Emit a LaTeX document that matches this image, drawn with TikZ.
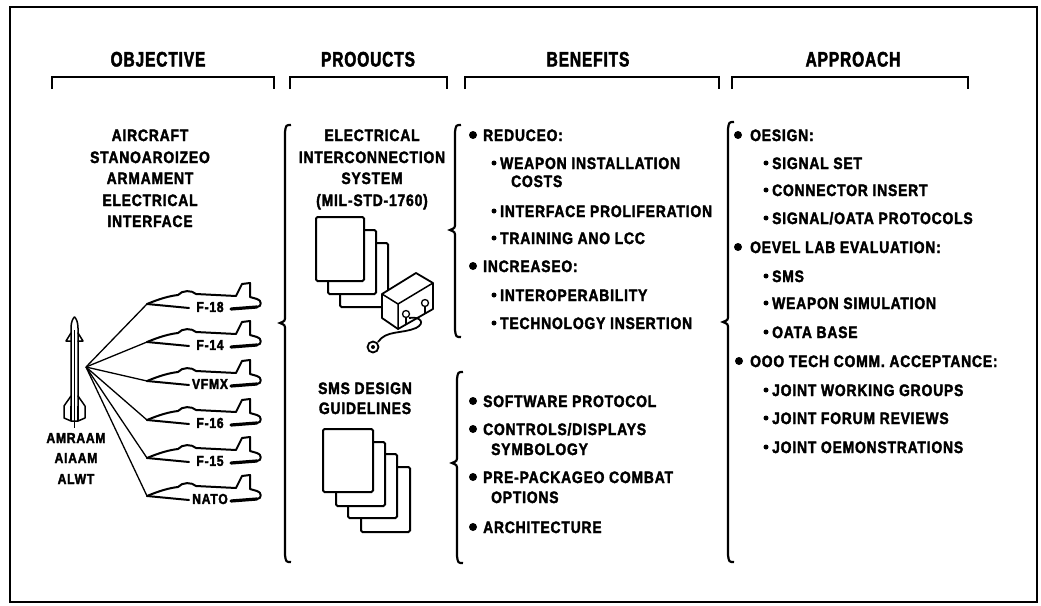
\documentclass[tikz,border=0pt]{standalone}
\usepackage{fontspec}
\newfontfamily\bfont{Liberation Sans}[FakeStretch=0.84,LetterSpace=5,FakeBold=2.2]
\newfontfamily\hfont{Liberation Sans}[FakeStretch=0.74,LetterSpace=4,FakeBold=2.2]
\newcommand\leftbrc[4]{\draw[brc] (#1+6,#2) .. controls (#1+1,#2) .. (#1,#2+7) -- (#1,#3-7) .. controls (#1,#3-2) .. (#1-5,#3) .. controls (#1,#3+2) .. (#1,#3+7) -- (#1,#4-7) .. controls (#1+1,#4) .. (#1+6,#4);}
\tikzset{
  frame/.style={line width=2pt},
  hbrk/.style={line width=2.4pt},
  brc/.style={line width=2.2pt},
  htxt/.style={font=\hfont\bfseries\fontsize{21}{25}\selectfont, anchor=base, inner sep=0pt},
  ctxt/.style={font=\bfont\bfseries\fontsize{16.5}{21}\selectfont, anchor=base, inner sep=0pt},
  btxt/.style={font=\bfont\bfseries\fontsize{16.5}{21}\selectfont, anchor=base west, inner sep=0pt},
  mtxt/.style={font=\bfont\bfseries\fontsize{14.5}{18}\selectfont, anchor=base, inner sep=0pt},
  jtxt/.style={font=\bfont\bfseries\fontsize{14.5}{16}\selectfont, inner sep=0pt},
  jl/.style={line width=2pt, line join=round, line cap=round},
  conn/.style={line width=1.3pt},
  page/.style={draw, fill=white, line width=2pt, rounded corners=1.5pt},
  pics/jet/.style={code={
    \coordinate (-nose) at (0,0);
    \draw[jl] (0,0) .. controls (12,-5) and (22,-8) .. (31,-9)
      .. controls (35,-14) and (45,-14) .. (49,-10) -- (89,-8) -- (95,-20)
      -- (103,-21) -- (103,-7) -- (110,-5) .. controls (115,-4) and (115,3) .. (110,3);
    \draw[jl] (0,0) -- (42,4);
    \draw[line width=3.2pt, line cap=round] (84,5) -- (110,3);
    \node[jtxt] (-lab) at (63,3) {#1};
  }}
}
\begin{document}
\begin{tikzpicture}[x=1pt,y=-1pt]
\useasboundingbox (0,0) rectangle (1041,605);
\fill[white] (0,0) rectangle (1041,605);
\draw[frame] (10,7) rectangle (1037,602);

% headings
\node[htxt] (hobj) at (158,66.5) {OBJECTIVE};
\node[htxt] (hprod) at (368,66.5) {PROOUCTS};
\node[htxt] (hben) at (588,66.5) {BENEFITS};
\node[htxt] (happ) at (853,66.5) {APPROACH};
\draw[hbrk] (52,89) -- (52,77) -- (274,77) -- (274,89);
\draw[hbrk] (290,89) -- (290,77) -- (447,77) -- (447,89);
\draw[hbrk] (465,89) -- (465,77) -- (719,77) -- (719,89);
\draw[hbrk] (732,89) -- (732,77) -- (968,77) -- (968,89);

% braces
\leftbrc{285}{125}{323}{562}
\leftbrc{455}{125}{230}{337}
\leftbrc{457}{372}{463}{563}
\leftbrc{728}{122}{322}{562}

% objective
\node[ctxt] (o1) at (150,141) {AIRCRAFT};
\node[ctxt] (o2) at (150,163) {STANOAROIZEO};
\node[ctxt] (o3) at (150,184) {ARMAMENT};
\node[ctxt] (o4) at (150,206) {ELECTRICAL};
\node[ctxt] (o5) at (150,227) {INTERFACE};

% missile
\draw[jl, line width=1.5pt] (71,420) -- (71,328) .. controls (71,322) and (73,318) .. (74.5,317)
  .. controls (76,318) and (78,322) .. (78,328) -- (78,420);
\draw[line width=1pt] (74.5,330) -- (74.5,428);
\draw[jl, line width=1.5pt] (71,333) -- (66,341) -- (71,341);
\draw[jl, line width=1.5pt] (78,333) -- (83,341) -- (78,341);
\draw[jl, line width=1.5pt] (71,396) -- (64,406) -- (64,418) -- (71,421) -- (78,421) -- (85,418) -- (85,406) -- (78,396);
\draw[line width=1.2pt] (71,406) -- (71,421) (78,406) -- (78,421);
\coordinate (hub) at (86,367);
\node[mtxt] (m1) at (76,443) {AMRAAM};
\node[mtxt] (m2) at (76,463) {AIAAM};
\node[mtxt] (m3) at (76,484) {ALWT};

% jets
\pic (j1) at (147,304) {jet={F-18}};
\pic (j2) at (147,342) {jet={F-14}};
\pic (j3) at (147,381) {jet={VFMX}};
\pic (j4) at (147,420) {jet={F-16}};
\pic (j5) at (147,458) {jet={F-15}};
\pic (j6) at (147,496) {jet={NATO}};
\foreach \j in {j1,j2,j3,j4,j5,j6} \draw[conn] (hub) -- (\j-nose);

% products
\node[ctxt] (p1) at (372,141) {ELECTRICAL};
\node[ctxt] (p2) at (372,163) {INTERCONNECTION};
\node[ctxt] (p3) at (372,184) {SYSTEM};
\node[ctxt] (p4) at (372,206) {(MIL-STD-1760)};
\draw[page] (340,243) rectangle (388,307);
\draw[page] (328,230) rectangle (376,294);
\draw[page] (316,217) rectangle (364,281);
% connector box
\filldraw[fill=white, line width=1.8pt, line join=round] (382,294) -- (416,273) -- (433,283) -- (433,309) -- (398,329) -- (382,318) -- cycle;
\draw[line width=1.5pt] (382,294) -- (398,304) -- (433,283) (398,304) -- (398,329);
\draw[line width=1.3pt] (406,314) circle (3.5) (425,303) circle (3.5);
\draw[line width=1.3pt] (406,318) -- (406,324) (425,307) -- (425,313);
\draw[line width=1.8pt] (409,318) .. controls (420,316) and (426,323) .. (416,328)
  .. controls (402,334) and (386,330) .. (378,342);
\draw[line width=1.8pt] (373,347) circle (5.5);
\fill (373,347) circle (2);

\node[ctxt] (s1) at (365,394) {SMS DESIGN};
\node[ctxt] (s2) at (365,414) {GUIDELINES};
\draw[page] (361,467) rectangle (410,532);
\draw[page] (348,454) rectangle (397,518);
\draw[page] (336,442) rectangle (385,506);
\draw[page] (323,429) rectangle (373,492);

% benefits upper
\fill (473,135) circle (4); \node[btxt] (b1) at (483,141) {REDUCEO:};
\fill (494,163) circle (2.5); \node[btxt] (b2) at (500,169) {WEAPON INSTALLATION};
\node[btxt] (b3) at (511,187) {COSTS};
\fill (494,211) circle (2.5); \node[btxt] (b4) at (500,217) {INTERFACE PROLIFERATION};
\fill (494,238) circle (2.5); \node[btxt] (b5) at (500,244) {TRAINING ANO LCC};
\fill (473,266) circle (4); \node[btxt] (b6) at (483,272) {INCREASEO:};
\fill (494,295) circle (2.5); \node[btxt] (b7) at (500,301) {INTEROPERABILITY};
\fill (494,323) circle (2.5); \node[btxt] (b8) at (500,329) {TECHNOLOGY INSERTION};

% benefits lower
\fill (473,401) circle (4); \node[btxt] (c1) at (483,407) {SOFTWARE PROTOCOL};
\fill (473,429) circle (4); \node[btxt] (c2) at (483,435) {CONTROLS/DISPLAYS};
\node[btxt] (c3) at (491,455) {SYMBOLOGY};
\fill (473,477) circle (4); \node[btxt] (c4) at (483,483) {PRE-PACKAGEO COMBAT};
\node[btxt] (c5) at (491,503) {OPTIONS};
\fill (473,527) circle (4); \node[btxt] (c6) at (483,533) {ARCHITECTURE};

% approach
\fill (738,135) circle (4); \node[btxt] (a1) at (750,141) {OESIGN:};
\fill (766,163) circle (2.5); \node[btxt] (a2) at (772,169) {SIGNAL SET};
\fill (766,190) circle (2.5); \node[btxt] (a3) at (772,196) {CONNECTOR INSERT};
\fill (766,218) circle (2.5); \node[btxt] (a4) at (772,224) {SIGNAL/OATA PROTOCOLS};
\fill (738,247) circle (4); \node[btxt] (a5) at (750,253) {OEVEL LAB EVALUATION:};
\fill (766,276) circle (2.5); \node[btxt] (a6) at (772,282) {SMS};
\fill (766,303) circle (2.5); \node[btxt] (a7) at (772,309) {WEAPON SIMULATION};
\fill (766,332) circle (2.5); \node[btxt] (a8) at (772,338) {OATA BASE};
\fill (739,361) circle (4); \node[btxt] (a9) at (750,367) {OOO TECH COMM. ACCEPTANCE:};
\fill (766,390) circle (2.5); \node[btxt] (a10) at (772,396) {JOINT WORKING GROUPS};
\fill (766,418) circle (2.5); \node[btxt] (a11) at (772,424) {JOINT FORUM REVIEWS};
\fill (766,447) circle (2.5); \node[btxt] (a12) at (772,453) {JOINT OEMONSTRATIONS};
\end{tikzpicture}
\end{document}
